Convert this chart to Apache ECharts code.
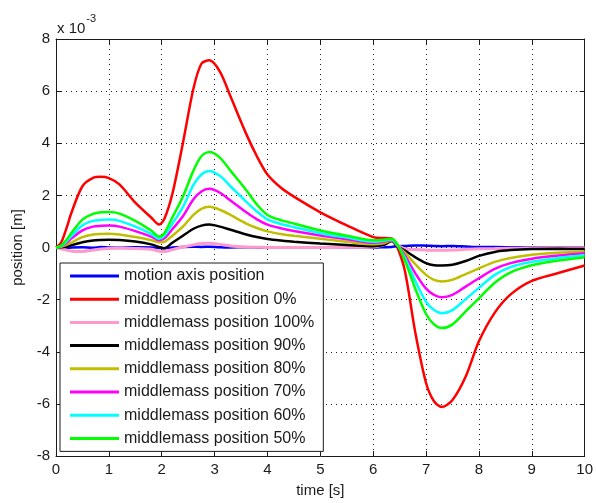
<!DOCTYPE html>
<html>
<head>
<meta charset="utf-8">
<script src="https://cdn.jsdelivr.net/npm/echarts@6/dist/echarts.min.js"></script>
<style>
  html, body { margin: 0; padding: 0; background: #fff; }
  #chart { width: 596px; height: 503px; }
</style>
</head>
<body>
<div id="chart"></div>
<script>
// time samples [s]
const time = [0, 0.1, 0.2, 0.3, 0.5, 0.7, 0.85, 1.0, 1.2, 1.5, 1.8, 1.95, 2.05, 2.2, 2.4, 2.6, 2.75, 2.9, 3.1, 3.3, 3.6, 3.8, 4.0, 4.25, 4.5, 5.0, 5.5, 6.0, 6.2, 6.35, 6.45, 6.6, 6.8, 7.0, 7.15, 7.3, 7.5, 7.75, 8.0, 8.3, 8.6, 9.0, 9.5, 10];

// positions in units of 1e-3 m
const motionAxis = [0, 0.0, -0.02, 0.0, 0.01, -0.01, 0.02, 0.0, -0.01, 0.01, 0.0, -0.02, -0.03, 0.0, 0.02, 0.03, 0.02, 0.03, 0.01, 0.0, 0.01, 0.0, 0.0, -0.01, -0.01, 0.0, 0.01, 0.0, 0.01, 0.02, 0.05, 0.06, 0.08, 0.07, 0.06, 0.05, 0.06, 0.04, 0.02, 0.02, 0.01, 0.0, 0.01, 0.01];
const mm0   = [0, 0.2, 0.75, 1.38, 2.35, 2.67, 2.71, 2.66, 2.42, 1.72, 1.15, 0.88, 1.1, 2.05, 4.0, 6.1, 7.05, 7.18, 6.75, 5.8, 4.35, 3.5, 2.8, 2.3, 1.95, 1.35, 0.85, 0.4, 0.36, 0.35, 0.05, -0.9, -3.3, -5.2, -5.9, -6.12, -5.85, -4.95, -3.6, -2.5, -1.8, -1.28, -0.98, -0.69];
const mm100 = [0, -0.05, -0.1, -0.14, -0.15, -0.1, -0.06, -0.04, -0.03, -0.04, -0.07, -0.14, -0.15, -0.08, 0.02, 0.1, 0.15, 0.16, 0.12, 0.06, 0.02, 0.01, 0.0, 0.0, 0.0, 0.0, 0.01, 0.02, 0.1, 0.25, 0.1, -0.05, -0.08, -0.1, -0.11, -0.11, -0.1, -0.07, -0.05, -0.04, -0.03, -0.02, -0.01, -0.01];
const mm90  = [0, 0.01, 0.04, 0.09, 0.2, 0.27, 0.29, 0.3, 0.29, 0.23, 0.12, 0.02, -0.03, 0.18, 0.45, 0.72, 0.84, 0.88, 0.8, 0.68, 0.5, 0.4, 0.33, 0.27, 0.22, 0.15, 0.1, 0.05, 0.1, 0.25, 0.05, -0.12, -0.38, -0.6, -0.68, -0.69, -0.66, -0.52, -0.32, -0.17, -0.1, -0.06, -0.05, -0.06];
const mm80  = [0, 0.03, 0.1, 0.2, 0.4, 0.5, 0.52, 0.53, 0.5, 0.4, 0.28, 0.2, 0.22, 0.45, 0.8, 1.25, 1.48, 1.56, 1.45, 1.25, 0.92, 0.75, 0.62, 0.52, 0.45, 0.34, 0.22, 0.12, 0.16, 0.27, 0.08, -0.2, -0.65, -1.05, -1.24, -1.3, -1.24, -1.02, -0.8, -0.55, -0.4, -0.28, -0.2, -0.15];
const mm70  = [0, 0.05, 0.18, 0.36, 0.66, 0.8, 0.83, 0.84, 0.8, 0.63, 0.42, 0.28, 0.35, 0.7, 1.2, 1.85, 2.15, 2.25, 2.1, 1.8, 1.35, 1.08, 0.88, 0.74, 0.63, 0.46, 0.32, 0.18, 0.22, 0.29, 0.1, -0.3, -1.0, -1.58, -1.82, -1.91, -1.82, -1.5, -1.18, -0.82, -0.6, -0.43, -0.31, -0.22];
const mm60  = [0, 0.06, 0.24, 0.46, 0.85, 1.02, 1.06, 1.07, 1.02, 0.8, 0.52, 0.34, 0.45, 0.9, 1.55, 2.4, 2.8, 2.94, 2.75, 2.35, 1.75, 1.38, 1.08, 0.9, 0.78, 0.55, 0.38, 0.22, 0.26, 0.31, 0.12, -0.4, -1.3, -2.08, -2.4, -2.52, -2.4, -1.98, -1.55, -1.05, -0.75, -0.55, -0.4, -0.3];
const mm50  = [0, 0.08, 0.3, 0.58, 1.07, 1.29, 1.35, 1.36, 1.3, 1.02, 0.65, 0.42, 0.55, 1.15, 1.95, 2.95, 3.5, 3.66, 3.45, 2.95, 2.2, 1.65, 1.25, 1.05, 0.92, 0.65, 0.45, 0.28, 0.3, 0.33, 0.15, -0.5, -1.6, -2.55, -2.95, -3.09, -2.95, -2.45, -1.95, -1.35, -0.95, -0.68, -0.5, -0.37];

const seriesNames = ['motion axis position', 'middlemass position 0%', 'middlemass position 100%', 'middlemass position 90%', 'middlemass position 80%', 'middlemass position 70%', 'middlemass position 60%', 'middlemass position 50%'];
const seriesData = [motionAxis, mm0, mm100, mm90, mm80, mm70, mm60, mm50];
const seriesColors = ['#0000ff', '#ff0000', '#ff99cc', '#000000', '#bfbf00', '#ff00ff', '#00ffff', '#00ff00'];

const xTicks = [0, 10, 1];
const yTicks = [-8, 8, 2];

const FONT = '"Liberation Sans", Arial, Helvetica, sans-serif';
const INK = '#1a1a1a';

const chart = echarts.init(document.getElementById('chart'), null, { renderer: 'canvas' });

const gridLine = { show: true, lineStyle: { color: '#222', width: 1, type: [1, 4] } };
const frame = { show: true, onZero: false, lineStyle: { color: INK, width: 1 } };
const inTicks = { show: true, inside: true, length: 5, lineStyle: { color: INK } };

chart.setOption({
  animation: false,
  backgroundColor: '#ffffff',
  textStyle: { fontFamily: FONT },
  grid: { left: 56, right: 7, top: 39, bottom: 44, containLabel: false },
  xAxis: [
    {
      type: 'value', min: xTicks[0], max: xTicks[1], interval: xTicks[2], position: 'bottom',
      axisLine: frame, axisTick: inTicks, splitLine: gridLine,
      axisLabel: { color: INK, fontSize: 15, margin: 6, fontFamily: FONT },
      name: 'time [s]', nameLocation: 'middle', nameGap: 27,
      nameTextStyle: { color: INK, fontSize: 15, fontFamily: FONT }
    },
    {
      type: 'value', min: xTicks[0], max: xTicks[1], interval: xTicks[2], position: 'top',
      axisLine: frame, axisTick: inTicks, splitLine: { show: false }, axisLabel: { show: false }
    }
  ],
  yAxis: [
    {
      type: 'value', min: yTicks[0], max: yTicks[1], interval: yTicks[2], position: 'left',
      axisLine: frame, axisTick: inTicks, splitLine: gridLine,
      axisLabel: { color: INK, fontSize: 15, margin: 6, fontFamily: FONT },
      name: 'position [m]', nameLocation: 'middle', nameGap: 31, nameRotate: 90,
      nameTextStyle: { color: INK, fontSize: 15, fontFamily: FONT }
    },
    {
      type: 'value', min: yTicks[0], max: yTicks[1], interval: yTicks[2], position: 'right',
      axisLine: frame, axisTick: inTicks, splitLine: { show: false }, axisLabel: { show: false }
    }
  ],
  legend: {
    orient: 'vertical', left: 60, top: 263,
    data: seriesNames,
    icon: 'rect', itemWidth: 49, itemHeight: 3, itemGap: 7.2, itemTextGap: 5,
    padding: [5, 9, 5, 10],
    backgroundColor: '#ffffff', borderColor: INK, borderWidth: 1,
    textStyle: { color: INK, fontSize: 16, lineHeight: 16, fontFamily: FONT },
    selectedMode: false
  },
  graphic: [
    {
      type: 'text', left: 57, top: 13,
      style: {
        text: '{b|x 10}{s|-3}',
        rich: {
          b: { fontSize: 15, fontFamily: FONT, fill: INK, padding: [8, 0, 0, 0] },
          s: { fontSize: 11, fontFamily: FONT, fill: INK, verticalAlign: 'top', padding: [0, 0, 8, 1] }
        }
      }
    }
  ],
  series: seriesNames.map((name, i) => ({
    name: name,
    type: 'line',
    data: time.map((t, k) => [t, seriesData[i][k]]),
    showSymbol: false,
    symbol: 'none',
    smooth: 0.3,
    clip: true,
    lineStyle: { color: seriesColors[i], width: i === 2 ? 3 : 2.5 },
    itemStyle: { color: seriesColors[i] },
    z: 2 + i
  }))
});
</script>
</body>
</html>
